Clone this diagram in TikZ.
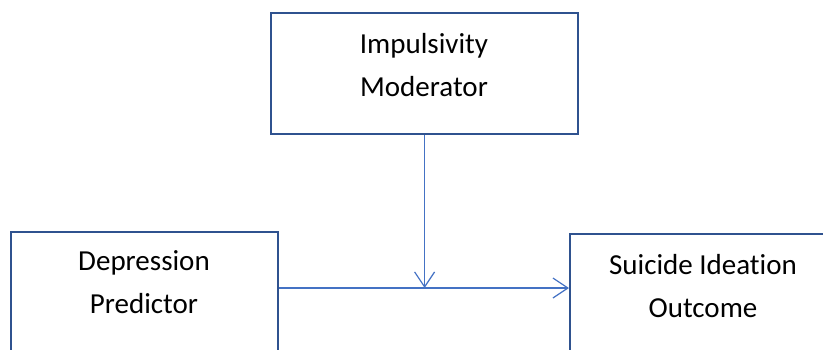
\documentclass[tikz,border=0pt]{standalone}
\usepackage{fontspec}
\setmainfont{Carlito}[Ligatures=NoCommon]
\usetikzlibrary{arrows.meta}
\definecolor{boxblue}{HTML}{2F528F}
\definecolor{lineblue}{HTML}{4472C4}
\begin{document}
\begin{tikzpicture}[x=1pt,y=-1pt,
  box/.style={draw=boxblue, line width=2.2pt, rectangle, inner sep=0pt, anchor=north west},
  lbl/.style={font=\fontsize{29}{43}\selectfont, align=center, anchor=base, inner sep=0pt},
  conn/.style={draw=lineblue, line width=1.2pt, -{Straight Barb[length=15pt,width=20pt]}}]
\useasboundingbox (0,0) rectangle (823,349);
\clip (0,0) rectangle (823,349);
\node[box, minimum width=307pt, minimum height=121pt] (mod) at (270,12) {};
\node[box, minimum width=267pt, minimum height=160pt] (pred) at (10,231) {};
\node[box, minimum width=300pt, minimum height=160pt] (out) at (569,233) {};
\node[lbl] (modt) at (424,96) {Impulsivity\\Moderator};
\node[lbl] (predt) at (144,313) {Depression\\Predictor};
\node[lbl] (outt) at (703,317) {Suicide Ideation\\Outcome};
\coordinate (hstart) at ([yshift=-57pt]pred.north east);
\coordinate (hend) at (out.west |- hstart);
\coordinate (j) at (mod.south |- hstart);
\draw[conn] (hstart) -- (hend);
\draw[conn] (mod.south) -- (j);
\end{tikzpicture}
\end{document}
